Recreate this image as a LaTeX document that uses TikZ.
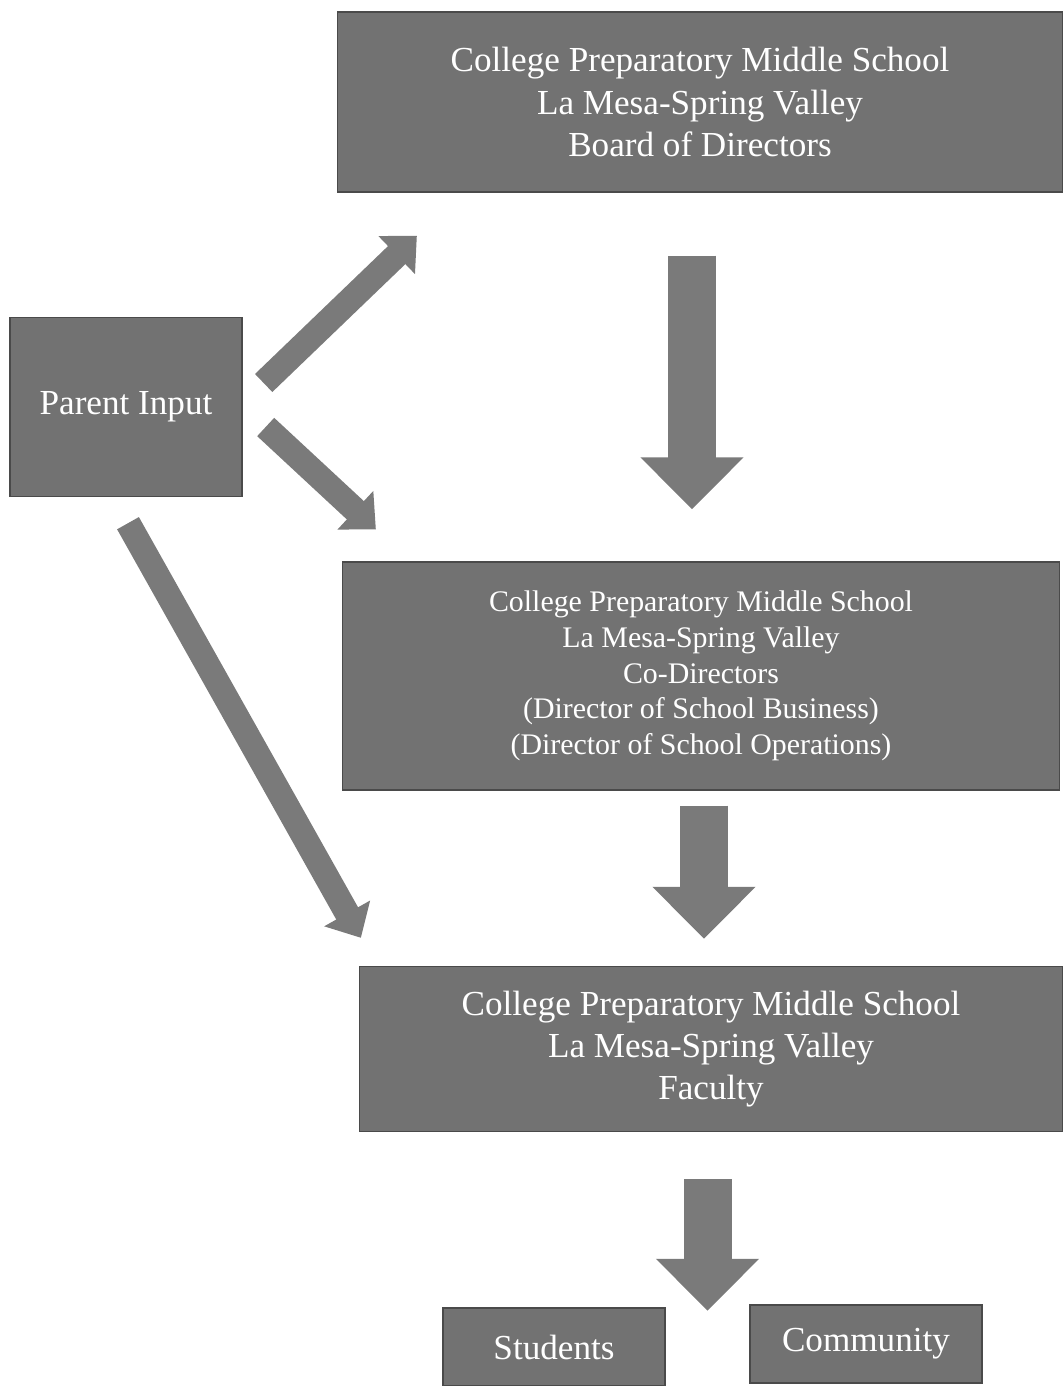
\documentclass[tikz,border=0pt]{standalone}
\usepackage{fontspec}
\setmainfont{Liberation Serif}
\usepackage{tikz}
\usetikzlibrary{arrows.meta,positioning,calc}
\definecolor{boxgray}{HTML}{727272}
\definecolor{arrowgray}{HTML}{7A7A7A}
\definecolor{edgegray}{HTML}{4A4A4A}

\begin{document}
\begin{tikzpicture}[
  x=0.02cm,y=-0.02cm,
  box/.style={draw=edgegray,line width=0.8pt,fill=boxgray,text=white,
    inner sep=0pt,align=center,font=\fontsize{20}{24}\selectfont},
  bigarrow/.style={arrowgray,line width=0.96cm,
    -{Triangle[width=2cm,length=1.04cm]}},
  diagarrow/.style={arrowgray,line width=0.5cm,
    -{Triangle[width=1.02cm,length=0.56cm]}}]
\useasboundingbox (0,0) rectangle (1063,1386);
% boxes
\node[box,minimum width=14.5cm,minimum height=3.6cm] (board) at (700,102)
  {College Preparatory Middle School\\La Mesa-Spring Valley\\Board of Directors};
\node[box,minimum width=4.64cm,minimum height=3.58cm] (parent) at (126,407)
  {Parent Input};
\node[box,minimum width=14.34cm,minimum height=4.56cm,
  font=\fontsize{17}{20.3}\selectfont] (codir) at (701,676)
  {College Preparatory Middle School\\La Mesa-Spring Valley\\Co-Directors\\
   (Director of School Business)\\(Director of School Operations)};
\node[box,minimum width=14.06cm,minimum height=3.3cm] (faculty) at (711,1049)
  {College Preparatory Middle School\\La Mesa-Spring Valley\\Faculty};
\node[box,minimum width=4.44cm,minimum height=1.56cm] (students) at (554,1347)
  {Students};
\node[box,minimum width=4.64cm,minimum height=1.56cm] (community) at (866,1344)
  {Community};
% down the chain
\draw[bigarrow,shorten <=1.26cm,shorten >=1.04cm]
  ([xshift=-1.6mm]board.south) -- ([xshift=-1.6mm]board.south |- codir.north);
\draw[bigarrow,shorten <=0.3cm,shorten >=0.54cm]
  ([xshift=0.6mm]codir.south) -- ([xshift=0.6mm]codir.south |- faculty.north);
\coordinate (split) at ($(students.north east)!0.5!(community.north west)+(0,5)$);
\draw[bigarrow,shorten <=0.94cm] (faculty.south -| split) -- (split);
% parent input
\draw[diagarrow] ($(parent.east)+(21,-24)$) -- ($(board.south west)+(80,43)$);
\draw[diagarrow] ($(parent.east)+(23,20)$) -- ($(codir.north west)+(34,-32)$);
\draw[diagarrow] ($(parent.south)+(2,26)$) -- ($(faculty.north west)+(2,-28)$);
\end{tikzpicture}
\end{document}
